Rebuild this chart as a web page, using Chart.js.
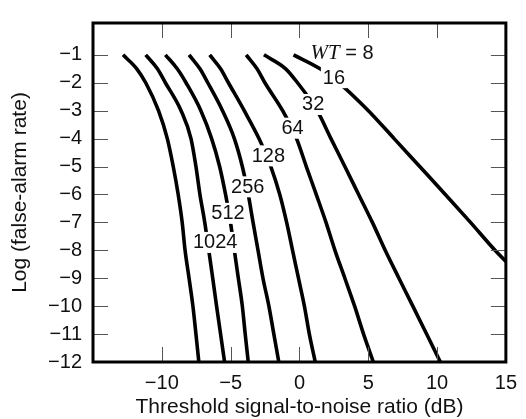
<!DOCTYPE html>
<html>
<head>
<meta charset="utf-8">
<script src="https://cdn.jsdelivr.net/npm/chart.js@4.4.1/dist/chart.umd.min.js"></script>
<style>
  html, body { margin: 0; padding: 0; background: #fff; }
</style>
</head>
<body>
<canvas id="myChart" width="526" height="419"></canvas>
<script>
  // false-alarm exponent (y) shared by the curves read at fixed levels
  const yLevels = [-1, -1.5, -2, -3, -4, -5, -6, -7, -8, -9, -10, -11, -12];

  // threshold SNR (dB) per curve, one value per yLevels entry
  const snr1024 = [-12.82, -11.82, -11.17, -10.24, -9.60, -9.17, -8.81, -8.52, -8.31, -8.02, -7.74, -7.52, -7.31];
  const snr512  = [-11.17, -10.32, -9.74, -8.60, -7.88, -7.52, -7.23, -6.88, -6.59, -6.30, -6.02, -5.73, -5.44];
  const snr256  = [-9.74, -8.88, -8.24, -7.16, -6.38, -5.80, -5.37, -5.01, -4.73, -4.44, -4.15, -3.94, -3.72];
  const snr128  = [-8.02, -7.23, -6.66, -5.59, -4.73, -4.15, -3.72, -3.37, -3.01, -2.65, -2.22, -1.86, -1.50];
  const snr64   = [-6.52, -5.73, -5.16, -4.01, -2.94, -2.08, -1.43, -0.93, -0.50, -0.07, 0.36, 0.72, 1.15];
  const snr32   = [-3.87, -3.08, -2.51, -1.22, -0.21, 0.50, 1.22, 1.93, 2.58, 3.30, 4.01, 4.66, 5.37];
  const snr16   = [-2.58, -1.00, -0.14, 1.29, 2.29, 3.30, 4.30, 5.30, 6.23, 7.23, 8.24, 9.24, 10.24];
  // WT = 8 leaves the plot through the right edge
  const snr8    = [-0.43, 1.50, 2.87, 5.01, 6.88, 8.74, 10.60, 12.43, 14.21, 15.0];
  const lvl8    = [-1, -1.5, -2, -3, -4, -5, -6, -7, -8, -8.40];

  const xTickValues = [-10, -5, 0, 5, 10, 15];
  const yTickValues = [-12, -11, -10, -9, -8, -7, -6, -5, -4, -3, -2, -1];

  // curve labels (data coords)
  const labelText = ['16', '32', '64', '128', '256', '512', '1024'];
  const labelX = [2.51, 1.0, -0.5, -2.26, -3.76, -5.19, -6.12];
  const labelY = [-1.80, -2.76, -3.61, -4.60, -5.71, -6.66, -7.70];
  const wtLabelX = 3.1, wtLabelY = -0.93;

  const sans = '"Liberation Sans", Arial, Helvetica, sans-serif';

  function pts(xs, ys) {
    return xs.map((v, i) => ({ x: v, y: ys[i] }));
  }
  function curve(name, xs, ys) {
    return {
      label: name,
      data: pts(xs, ys),
      showLine: true,
      borderColor: '#000',
      borderWidth: 3.6,
      pointRadius: 0,
      fill: false,
      cubicInterpolationMode: 'monotone'
    };
  }
  function minus(v) {
    return v < 0 ? '\u2212' + Math.abs(v) : String(v);
  }

  const curveLabels = {
    id: 'curveLabels',
    afterDatasetsDraw(chart) {
      const { ctx, scales: { x, y } } = chart;
      ctx.save();
      ctx.font = '20px ' + sans;
      ctx.textBaseline = 'middle';
      ctx.textAlign = 'center';
      labelText.forEach((t, i) => {
        const px = x.getPixelForValue(labelX[i]);
        const py = y.getPixelForValue(labelY[i]);
        const w = ctx.measureText(t).width;
        ctx.fillStyle = '#fff';
        ctx.fillRect(px - w / 2 - 2, py - 10, w + 4, 21);
        ctx.fillStyle = '#111';
        ctx.fillText(t, px, py + 1);
      });

      // "WT = 8" with the italic WT
      const italic = 'italic 21px "Liberation Serif", "Times New Roman", serif';
      const rest = ' = 8';
      ctx.font = italic;
      const w1 = ctx.measureText('WT').width;
      ctx.font = '20px ' + sans;
      const w2 = ctx.measureText(rest).width;
      const cx = x.getPixelForValue(wtLabelX);
      const cy = y.getPixelForValue(wtLabelY);
      const x0 = cx - (w1 + w2) / 2;
      ctx.textAlign = 'left';
      ctx.fillStyle = '#111';
      ctx.font = italic;
      ctx.fillText('WT', x0, cy + 1);
      ctx.font = '20px ' + sans;
      ctx.fillText(rest, x0 + w1, cy + 1);
      ctx.restore();
    }
  };

  const frameAndTicks = {
    id: 'frameAndTicks',
    afterDraw(chart) {
      const { ctx, chartArea: a, scales: { x, y } } = chart;
      ctx.save();
      ctx.strokeStyle = '#555';
      ctx.lineWidth = 1;
      ctx.beginPath();
      xTickValues.forEach(v => {
        const px = Math.round(x.getPixelForValue(v)) + 0.5;
        ctx.moveTo(px, a.bottom);
        ctx.lineTo(px, a.bottom - 15);
        ctx.moveTo(px, a.top);
        ctx.lineTo(px, a.top + 15);
      });
      yTickValues.forEach(v => {
        const py = Math.round(y.getPixelForValue(v)) + 0.5;
        ctx.moveTo(a.left, py);
        ctx.lineTo(a.left + 15, py);
        ctx.moveTo(a.right, py);
        ctx.lineTo(a.right - 15, py);
      });
      ctx.stroke();
      ctx.strokeStyle = '#000';
      ctx.lineWidth = 3;
      ctx.strokeRect(a.left, a.top, a.right - a.left, a.bottom - a.top);
      ctx.restore();
    }
  };

  const ctx = document.getElementById('myChart');
  new Chart(ctx, {
    type: 'scatter',
    data: {
      datasets: [
        curve('WT = 8', snr8, lvl8),
        curve('16', snr16, yLevels),
        curve('32', snr32, yLevels),
        curve('64', snr64, yLevels),
        curve('128', snr128, yLevels),
        curve('256', snr256, yLevels),
        curve('512', snr512, yLevels),
        curve('1024', snr1024, yLevels)
      ]
    },
    options: {
      responsive: false,
      animation: false,
      devicePixelRatio: 1,
      layout: { padding: { top: 11, right: 13, left: 0, bottom: 0 } },
      plugins: {
        legend: { display: false },
        tooltip: { enabled: false }
      },
      scales: {
        x: {
          type: 'linear',
          min: -15,
          max: 15,
          afterBuildTicks: s => { s.ticks = xTickValues.map(v => ({ value: v })); },
          afterFit: s => { s.height = 57; },
          grid: { display: false, drawTicks: false },
          border: { display: false },
          ticks: {
            padding: 9,
            color: '#111',
            font: { family: sans, size: 20 },
            maxRotation: 0,
            callback: v => minus(v)
          },
          title: {
            display: true,
            text: 'Threshold signal-to-noise ratio (dB)',
            color: '#111',
            font: { family: sans, size: 21, lineHeight: 1.1 },
            padding: { top: 0, bottom: 0 }
          }
        },
        y: {
          type: 'linear',
          min: -12,
          max: 0.14,
          afterBuildTicks: s => { s.ticks = yTickValues.map(v => ({ value: v })); },
          afterFit: s => { s.width = 93; },
          grid: { display: false, drawTicks: false },
          border: { display: false },
          ticks: {
            padding: 11,
            color: '#111',
            font: { family: sans, size: 20 },
            callback: v => minus(v)
          },
          title: {
            display: true,
            text: 'Log (false-alarm rate)',
            color: '#111',
            font: { family: sans, size: 21, lineHeight: 1.1 },
            padding: { top: 9, bottom: 0 }
          }
        }
      }
    },
    plugins: [curveLabels, frameAndTicks]
  });
</script>
</body>
</html>
